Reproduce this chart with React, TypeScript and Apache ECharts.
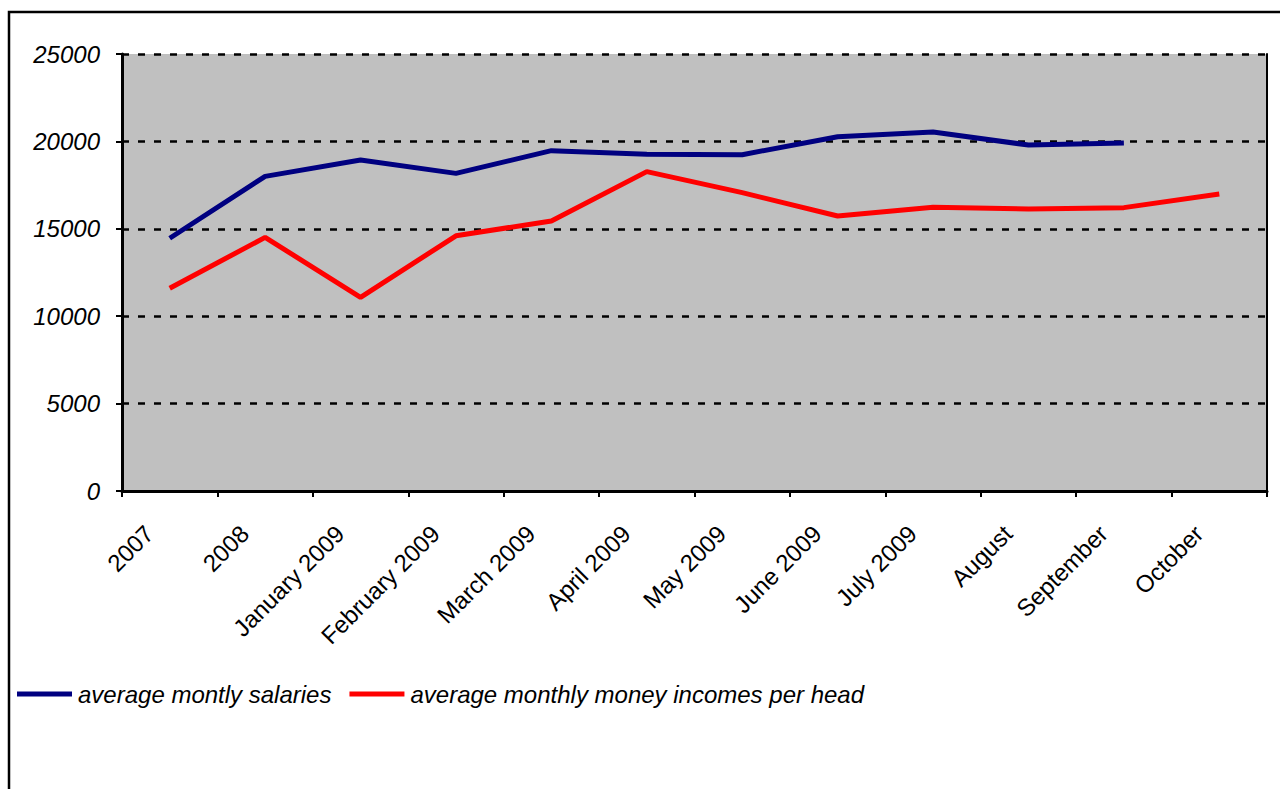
import React, { useEffect, useRef } from "react";
import * as echarts from "echarts";

const categories = [
  "2007",
  "2008",
  "January 2009",
  "February 2009",
  "March 2009",
  "April 2009",
  "May 2009",
  "June 2009",
  "July 2009",
  "August",
  "September",
  "October",
];

const salaries: (number | null)[] = [
  14460, 18000, 18940, 18170, 19470, 19260, 19240, 20270, 20540, 19790, 19910, null,
];

const incomes: number[] = [
  11600, 14510, 11080, 14600, 15450, 18270, 17070, 15730, 16230, 16130, 16210, 16990,
];

const seriesNames = [
  "average montly salaries",
  "average monthly money incomes per head",
];

const yTicks = { min: 0, max: 25000, interval: 5000 };

const FONT = "'Liberation Sans', Arial, sans-serif";

export default function App() {
  const ref = useRef<HTMLDivElement>(null);

  useEffect(() => {
    if (!ref.current) return;
    const chart = echarts.init(ref.current, undefined, { renderer: "svg" });
    chart.setOption({
      animation: false,
      backgroundColor: "#ffffff",
      textStyle: { fontFamily: FONT },
      graphic: [
        {
          type: "rect",
          shape: { x: 9, y: 12, width: 1400, height: 1000 },
          style: { fill: "none", stroke: "#000000", lineWidth: 2.5 },
          silent: true,
        },
      ],
      grid: {
        left: 122,
        right: 13,
        top: 54,
        bottom: 298,
        show: true,
        backgroundColor: "#c0c0c0",
        borderWidth: 0,
      },
      legend: {
        left: 17,
        top: 682,
        padding: 0,
        icon: "rect",
        itemWidth: 55,
        itemHeight: 5,
        itemGap: 18,
        textStyle: {
          fontFamily: FONT,
          fontSize: 24,
          fontStyle: "italic",
          color: "#000000",
          padding: [0, 0, 0, 1],
        },
        data: seriesNames,
      },
      xAxis: {
        type: "category",
        data: categories,
        boundaryGap: true,
        axisLine: { show: true, lineStyle: { color: "#000000", width: 3 } },
        axisTick: {
          show: true,
          inside: false,
          length: 6,
          alignWithLabel: false,
          lineStyle: { color: "#000000", width: 2 },
        },
        axisLabel: {
          interval: 0,
          rotate: 45,
          margin: 18,
          fontSize: 24,
          color: "#000000",
          fontFamily: FONT,
          padding: [0, 29, 0, 0],
        },
        splitLine: { show: false },
      },
      yAxis: [
        {
          type: "value",
          min: yTicks.min,
          max: yTicks.max,
          interval: yTicks.interval,
          axisLine: { show: true, lineStyle: { color: "#000000", width: 3 } },
          axisTick: {
            show: true,
            inside: false,
            length: 6,
            lineStyle: { color: "#000000", width: 2 },
          },
          axisLabel: {
            margin: 22,
            fontSize: 24,
            fontStyle: "italic",
            color: "#000000",
            fontFamily: FONT,
            formatter: (v: number) => String(v),
          },
          splitLine: {
            show: true,
            lineStyle: { color: "#000000", width: 2.5, type: [7, 9] },
          },
        },
        {
          type: "value",
          position: "right",
          min: yTicks.min,
          max: yTicks.max,
          interval: yTicks.interval,
          axisLine: { show: true, lineStyle: { color: "#000000", width: 2 } },
          axisTick: { show: false },
          axisLabel: { show: false },
          splitLine: { show: false },
        },
      ],
      series: [
        {
          name: seriesNames[0],
          type: "line",
          data: salaries,
          symbol: "none",
          showSymbol: false,
          connectNulls: false,
          lineStyle: { color: "#000080", width: 5 },
          itemStyle: { color: "#000080" },
          z: 3,
        },
        {
          name: seriesNames[1],
          type: "line",
          data: incomes,
          symbol: "none",
          showSymbol: false,
          lineStyle: { color: "#ff0000", width: 5 },
          itemStyle: { color: "#ff0000" },
          z: 3,
        },
      ],
    });
    return () => chart.dispose();
  }, []);

  return (
    <div
      ref={ref}
      style={{
        position: "fixed",
        left: 0,
        top: 0,
        width: 1280,
        height: 789,
      }}
    />
  );
}
